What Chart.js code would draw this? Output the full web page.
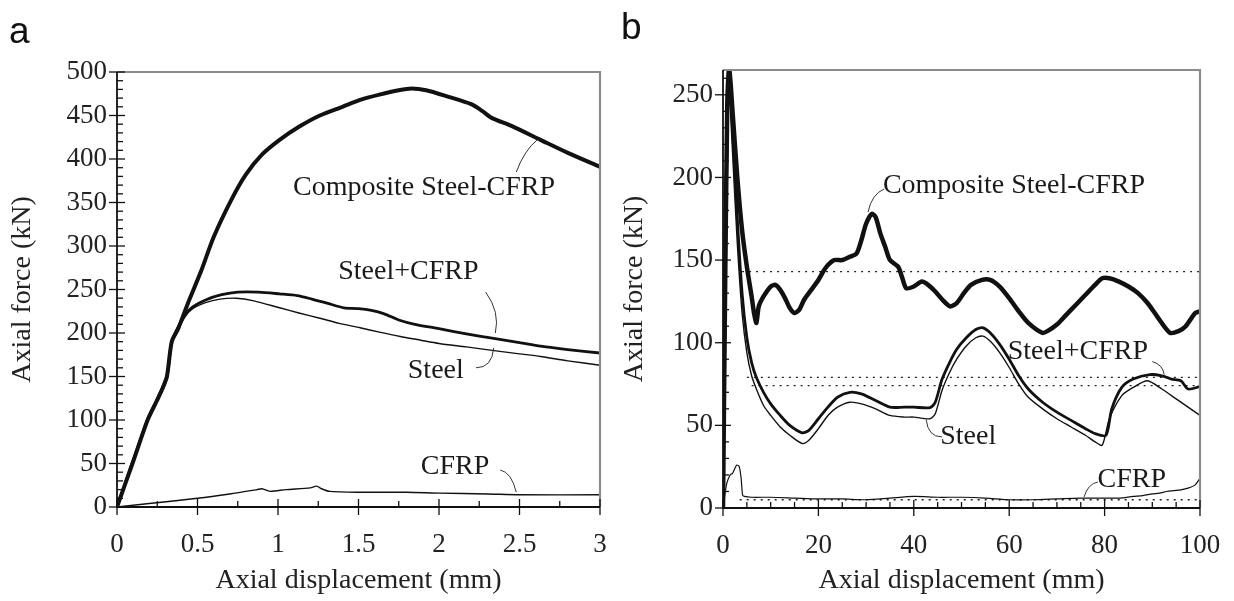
<!DOCTYPE html>
<html>
<head>
<meta charset="utf-8">
<script src="https://cdn.jsdelivr.net/npm/chart.js@4.4.0/dist/chart.umd.min.js"></script>
<style>
  body { margin: 0; background: #fff; }
  #wrap { position: relative; width: 1234px; height: 601px; }
  canvas { position: absolute; top: 0; }
  .tag { position: absolute; font-family: "Liberation Sans", Arial, sans-serif; font-size: 37px; color: #111; line-height: 1; }
</style>
</head>
<body>
<div id="wrap">
  <canvas id="chartA" width="617" height="601" style="left:0"></canvas>
  <canvas id="chartB" width="617" height="601" style="left:617px"></canvas>
  <div class="tag" style="left:9px;top:12px">a</div>
  <div class="tag" style="left:621px;top:8px">b</div>
</div>
<script>
// panel a : short displacement range (0 - 3 mm)
const compA_x = [0, 0.1, 0.19, 0.25, 0.28, 0.31, 0.34, 0.38, 0.44, 0.52, 0.6, 0.71, 0.8, 0.9, 1.01, 1.13, 1.26, 1.4, 1.51, 1.63, 1.75, 1.83, 1.92, 2.05, 2.2, 2.27, 2.33, 2.45, 2.63, 2.8, 3.0];
const compA_y = [0, 52, 100, 123, 135, 150, 190, 205, 234, 270, 310, 353, 382, 405, 422, 437, 450, 460, 468, 474, 479, 481, 479, 472, 463, 455, 447, 438, 422, 407, 391];
const stcfA_x = [0, 0.19, 0.31, 0.34, 0.42, 0.47, 0.55, 0.65, 0.75, 0.88, 1.01, 1.12, 1.21, 1.31, 1.41, 1.5, 1.58, 1.66, 1.75, 1.85, 2.0, 2.17, 2.33, 2.5, 2.63, 2.8, 3.0];
const stcfA_y = [0, 100, 150, 190, 220, 230, 238, 244, 247, 247, 245, 243, 239, 234, 229, 228, 226, 222, 215, 210, 205, 199, 194, 189, 185, 181, 177];
const steelA_x = [0, 0.19, 0.31, 0.34, 0.42, 0.47, 0.55, 0.64, 0.74, 0.85, 1.01, 1.13, 1.26, 1.38, 1.51, 1.63, 1.76, 1.88, 2.0, 2.17, 2.33, 2.5, 2.63, 2.8, 3.0];
const steelA_y = [0, 100, 150, 188, 218, 228, 235, 239, 240, 237, 229, 223, 217, 211, 206, 201, 196, 192, 188, 184, 180, 176, 173, 168, 163];
const cfrpA_x = [0, 0.2, 0.5, 0.7, 0.87, 0.9, 0.95, 1.05, 1.2, 1.24, 1.27, 1.32, 1.5, 1.8, 2.0, 2.3, 2.5, 3.0];
const cfrpA_y = [0, 4, 10, 15, 20, 21, 18, 20, 22, 24, 21, 18, 17, 17, 16, 15, 14, 14];

// panel b : full test (0 - 100 mm)
const compB_x = [0, 0.4, 0.9, 1.3, 2, 3, 4, 5, 6, 6.5, 7, 7.5, 8.5, 10, 11, 12, 13, 14, 15, 16, 17, 18.5, 20, 21, 22, 23.3, 25, 26.6, 28, 29, 30, 31.2, 32, 33, 34, 35, 36.7, 37.5, 38.4, 40, 41.7, 43, 44.5, 46, 47.6, 49, 50.5, 52, 54.3, 56, 58, 60, 62, 64, 66.9, 68, 70, 72, 74, 76, 78, 79.5, 81, 83, 85, 87, 89, 91, 93.7, 95.5, 97, 99, 100];
const compB_y = [0, 120, 245, 266, 240, 200, 168, 146, 128, 118, 112, 122, 128, 134, 135, 132, 127, 121, 118, 120, 126, 132, 138, 143, 147, 150, 150, 152, 154, 162, 172, 178, 176, 166, 158, 150, 146, 140, 133, 134, 137, 135, 131, 126, 122, 124, 130, 135, 138, 138, 134, 127, 119, 112, 106, 107, 111, 117, 123, 129, 135, 139, 139, 137, 134, 130, 124, 116, 106, 107, 110, 118, 119];
const stcfB_x = [0, 0.4, 0.9, 1.3, 2, 3, 4, 5, 6, 7, 8.5, 10, 12, 14, 16.6, 18, 20, 22, 24, 26.6, 29, 32, 35, 38, 40, 43.4, 44.5, 45.9, 47.5, 49, 51, 53, 54.5, 56, 58, 60, 62, 64, 67, 70, 73, 76, 78, 80.3, 81.5, 83.6, 86, 89.5, 92, 94, 96, 97.5, 100];
const stcfB_y = [0, 110, 235, 262, 230, 175, 130, 103, 88, 79, 70, 63, 56, 50, 45.5, 47, 54, 61, 67, 70, 69, 65, 61, 61, 61, 60.7, 64, 77.7, 88, 96, 103, 108, 109, 106, 99, 90, 80, 72, 64, 58, 53, 48, 45, 44, 60, 73, 78, 80.7, 80, 78, 77, 72, 73.5];
const steelB_x = [0, 0.4, 0.9, 1.3, 2, 3, 4, 5, 6, 7, 8.5, 10, 12, 14, 16.6, 18, 20, 22, 24, 26.6, 29, 32, 35, 38, 40, 43.4, 44.5, 45.9, 47.5, 49, 51, 53, 54.5, 56, 58, 60, 62, 64, 67, 70, 73, 76, 78, 79.5, 81, 83.6, 86, 89, 92, 95, 100];
const steelB_y = [0, 100, 220, 250, 215, 160, 118, 94, 80, 72, 62, 56, 49, 44, 39, 41, 48, 56, 61, 64, 63, 60, 56, 55, 55, 54, 57, 71, 82, 90, 98, 103, 104, 101, 94, 85, 75, 67, 60, 54, 49, 44, 40, 38, 54, 68, 73, 77, 72, 66, 56];
const cfrpB_x = [0, 0.8, 1.5, 2, 2.5, 2.9, 3.4, 3.8, 4.1, 4.5, 6, 10, 15, 20, 25, 30, 35, 40, 45, 50, 55, 60, 65, 70, 75, 80, 83, 86, 88, 90, 91.5, 93, 94.5, 96, 97.5, 99, 100];
const cfrpB_y = [0, 15, 20, 21, 24, 26, 25, 18, 8, 7, 6.5, 6.5, 6, 5.5, 5.5, 5, 6, 7, 6.5, 6.5, 6, 5, 5, 5.5, 6, 6, 6, 7, 7.5, 8.5, 9, 10, 10.5, 11, 12, 14, 18];

// dotted average levels in panel b
const refLevels = [143, 79, 74, 5];
const refStart = [4, 5, 6, 3.5];
const refEnd = 100;

const serif = '"Liberation Serif", "Times New Roman", serif';
Chart.defaults.font.family = serif;
Chart.defaults.color = '#222';

const pts = (xs, ys) => xs.map((x, i) => ({ x: x, y: ys[i] }));

function curve(xs, ys, w) {
    return {
        data: pts(xs, ys),
        showLine: true,
        borderColor: '#111',
        borderWidth: w,
        pointRadius: 0,
        tension: 0.25,
        fill: false
    };
}

// frame, inward ticks and the curve labels with their leader lines
function decor(cfg) {
    return {
        id: 'decor',
        afterDatasetsDraw(chart) {
            const ctx = chart.ctx;
            const a = chart.chartArea;
            const sx = chart.scales.x, sy = chart.scales.y;
            ctx.save();
            ctx.lineCap = 'butt';
            ctx.strokeStyle = '#8c8c8c';
            ctx.lineWidth = 2.2;
            ctx.beginPath();
            ctx.moveTo(a.left, a.top);
            ctx.lineTo(a.right, a.top);
            ctx.lineTo(a.right, a.bottom);
            ctx.stroke();

            ctx.strokeStyle = '#111';
            ctx.lineWidth = 1.8;
            ctx.beginPath();
            ctx.moveTo(a.left, a.top);
            ctx.lineTo(a.left, a.bottom);
            ctx.lineTo(a.right, a.bottom);
            ctx.stroke();

            ctx.lineWidth = 1.3;
            let n = Math.round((sx.max - sx.min) / cfg.xMinor);
            for (let i = 0; i <= n; i++) {
                const v = sx.min + i * cfg.xMinor;
                const px = sx.getPixelForValue(v);
                const major = Math.abs(v / cfg.xMajor - Math.round(v / cfg.xMajor)) < 1e-6;
                ctx.beginPath();
                ctx.moveTo(px, a.bottom + (major ? 8 : 0));
                ctx.lineTo(px, a.bottom - (major ? 8 : 6));
                ctx.stroke();
            }
            n = Math.floor((sy.max - sy.min) / cfg.yMinor + 1e-6);
            for (let i = 0; i <= n; i++) {
                const v = sy.min + i * cfg.yMinor;
                const py = sy.getPixelForValue(v);
                const major = Math.abs(v / cfg.yMajor - Math.round(v / cfg.yMajor)) < 1e-6;
                ctx.beginPath();
                ctx.moveTo(a.left - (major ? 8 : 0), py);
                ctx.lineTo(a.left + (major ? 8 : 6), py);
                ctx.stroke();
            }

            ctx.lineWidth = 1;
            ctx.strokeStyle = '#333';
            ctx.fillStyle = '#1a1a1a';
            ctx.font = '28px ' + serif;
            ctx.textAlign = 'center';
            ctx.textBaseline = 'middle';
            cfg.notes.forEach(nt => {
                ctx.fillText(nt.text, sx.getPixelForValue(nt.at[0]), sy.getPixelForValue(nt.at[1]));
                ctx.beginPath();
                ctx.moveTo(sx.getPixelForValue(nt.from[0]), sy.getPixelForValue(nt.from[1]));
                ctx.quadraticCurveTo(sx.getPixelForValue(nt.ctrl[0]), sy.getPixelForValue(nt.ctrl[1]),
                    sx.getPixelForValue(nt.to[0]), sy.getPixelForValue(nt.to[1]));
                ctx.stroke();
            });
            ctx.restore();
        }
    };
}

function axes(xr, yr, ySize, xSize) {
    const tickFont = { size: 27, family: serif };
    const titleFont = { size: 28, family: serif };
    return {
        x: {
            type: 'linear', min: xr.min, max: xr.max,
            grid: { display: false, drawTicks: false },
            border: { display: false },
            ticks: { stepSize: xr.step, font: tickFont, padding: 22, maxRotation: 0, autoSkip: false, includeBounds: false, color: '#222',
                callback: v => String(v) },
            title: { display: true, text: 'Axial displacement (mm)', font: titleFont, color: '#222', padding: { bottom: 4 } },
            afterFit: s => { s.height = xSize; s.paddingLeft = 0; s.paddingRight = 0; }
        },
        y: {
            type: 'linear', min: yr.min, max: yr.max,
            grid: { display: false, drawTicks: false },
            border: { display: false },
            ticks: { stepSize: yr.step, font: tickFont, padding: 10, autoSkip: false, includeBounds: false, color: '#222',
                callback: v => String(v) },
            title: { display: true, text: 'Axial force (kN)', font: titleFont, color: '#222', padding: { top: yr.titlePad } },
            afterFit: s => { s.width = ySize; s.paddingTop = 0; s.paddingBottom = 0; }
        }
    };
}

new Chart(document.getElementById('chartA'), {
    type: 'scatter',
    data: {
        datasets: [
            curve(compA_x, compA_y, 4),
            curve(stcfA_x, stcfA_y, 2.8),
            curve(steelA_x, steelA_y, 1.4),
            curve(cfrpA_x, cfrpA_y, 1.4)
        ]
    },
    options: {
        responsive: false,
        animation: false,
        events: [],
        devicePixelRatio: 1,
        layout: { padding: { left: 0, right: 17, top: 72, bottom: 0 } },
        scales: axes({ min: 0, max: 3, step: 0.5 }, { min: 0, max: 500, step: 50, titlePad: 6 }, 117, 94),
        plugins: { legend: { display: false }, tooltip: { enabled: false } }
    },
    plugins: [decor({
        xMajor: 0.5, xMinor: 0.25, yMajor: 50, yMinor: 10,
        notes: [
            { text: 'Composite Steel-CFRP', at: [1.907, 367], from: [2.48, 385], ctrl: [2.53, 410], to: [2.61, 422] },
            { text: 'Steel+CFRP', at: [1.81, 270], from: [2.29, 247], ctrl: [2.38, 224], to: [2.35, 200] },
            { text: 'Steel', at: [1.98, 157], from: [2.23, 160], ctrl: [2.33, 160], to: [2.34, 183] },
            { text: 'CFRP', at: [2.1, 46], from: [2.38, 42.5], ctrl: [2.45, 40], to: [2.48, 17] }
        ]
    })]
});

const refSets = refLevels.map((lv, i) => ({
    data: [{ x: refStart[i], y: lv }, { x: refEnd, y: lv }],
    showLine: true,
    borderColor: '#222',
    borderWidth: 1.3,
    borderDash: [2, 5],
    pointRadius: 0,
    fill: false
}));

new Chart(document.getElementById('chartB'), {
    type: 'scatter',
    data: {
        datasets: [
            curve(compB_x, compB_y, 4.5),
            curve(stcfB_x, stcfB_y, 2.8),
            curve(steelB_x, steelB_y, 1.4),
            curve(cfrpB_x, cfrpB_y, 1.2)
        ].concat(refSets)
    },
    options: {
        responsive: false,
        animation: false,
        events: [],
        devicePixelRatio: 1,
        layout: { padding: { left: 0, right: 34, top: 70, bottom: 0 } },
        scales: axes({ min: 0, max: 100, step: 20 }, { min: 0, max: 265, step: 50, titlePad: 1 }, 106, 93),
        plugins: { legend: { display: false }, tooltip: { enabled: false } }
    },
    plugins: [decor({
        xMajor: 20, xMinor: 5, yMajor: 50, yMinor: 10,
        notes: [
            { text: 'Composite Steel-CFRP', at: [61, 195], from: [33.8, 193], ctrl: [31.2, 190], to: [30.4, 179] },
            { text: 'Steel+CFRP', at: [74.4, 94.7], from: [90, 88.6], ctrl: [92.2, 86.8], to: [92.5, 80.7] },
            { text: 'Steel', at: [51.4, 43], from: [45.9, 43], ctrl: [43, 43], to: [42.6, 53.4] },
            { text: 'CFRP', at: [85.7, 17], from: [78.6, 15.8], ctrl: [76.5, 14.6], to: [75.7, 6.7] }
        ]
    })]
});
</script>
</body>
</html>
